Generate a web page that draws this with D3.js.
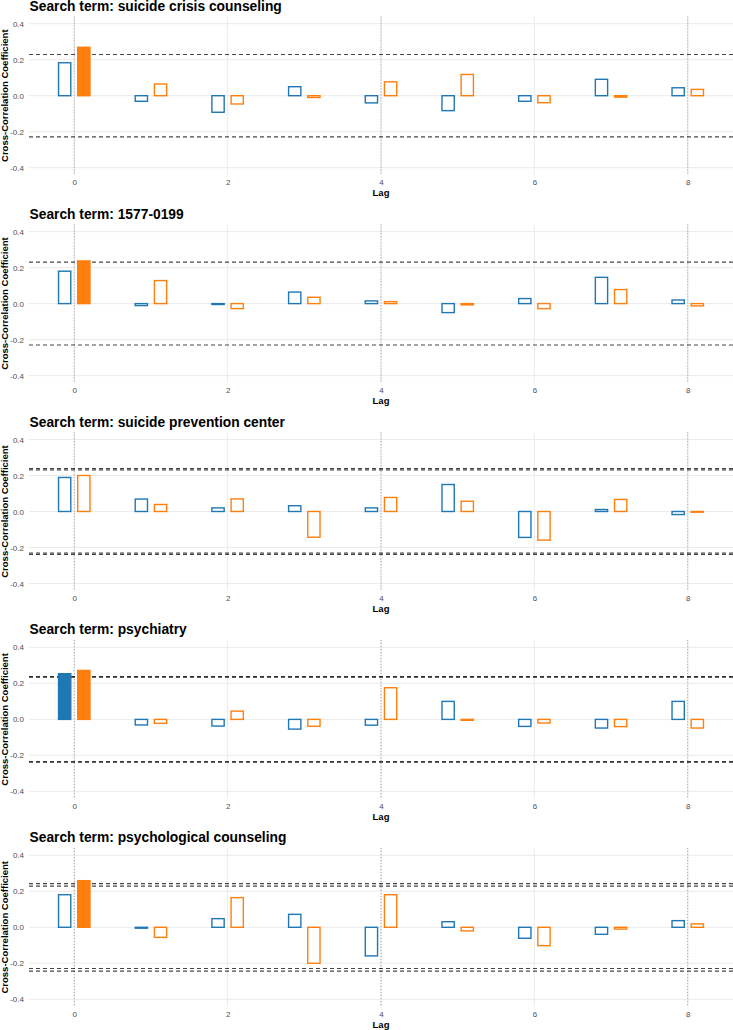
<!DOCTYPE html>
<html>
<head>
<meta charset="utf-8">
<script src="https://cdn.jsdelivr.net/npm/d3@7"></script>
<style>
  body { margin: 0; background: #fff; }
  text { font-family: "Liberation Sans", Arial, sans-serif; }
</style>
</head>
<body>
<script>
// chart data
const lags = [0, 1, 2, 3, 4, 5, 6, 7, 8];
const searchTerms = [
  'suicide crisis counseling',
  '1577-0199',
  'suicide prevention center',
  'psychiatry',
  'psychological counseling'
];
// blue series, one row per search term, one value per lag
const blueCcf = [
  [0.183, -0.031, -0.092, 0.05, -0.04, -0.083, -0.031, 0.091, 0.044],
  [0.18, -0.011, -0.005, 0.064, 0.015, -0.05, 0.028, 0.146, 0.02],
  [0.189, 0.069, 0.02, 0.032, 0.02, 0.15, -0.144, 0.011, -0.017],
  [0.254, -0.031, -0.037, -0.054, -0.032, 0.1, -0.039, -0.048, 0.1],
  [0.181, -0.005, 0.048, 0.072, -0.159, 0.031, -0.061, -0.039, 0.037]
];
// orange series
const orangeCcf = [
  [0.269, 0.065, -0.046, -0.01, 0.077, 0.118, -0.039, -0.008, 0.035],
  [0.237, 0.128, -0.028, 0.035, 0.011, -0.007, -0.028, 0.078, -0.013],
  [0.2, 0.039, 0.07, -0.143, 0.078, 0.057, -0.159, 0.067, -0.004],
  [0.272, -0.022, 0.046, -0.038, 0.176, -0.005, -0.02, -0.04, -0.048],
  [0.259, -0.056, 0.165, -0.2, 0.181, -0.02, -0.102, -0.01, 0.019]
];
// significance bounds (+/-) drawn as dashed lines
const thresholds = [
  [0.229],
  [0.23],
  [0.231, 0.239],
  [0.235, 0.238],
  [0.229, 0.243]
];
const yTicks = [-0.4, -0.2, 0, 0.2, 0.4];
const xTicks = [0, 2, 4, 6, 8];
const markedLags = [0, 4, 8];

const width = 733, height = 1030;
const blue = '#1f77b4', orange = '#ff7f0e';

const svg = d3.select('body').append('svg')
  .attr('width', width)
  .attr('height', height);

// shared x scale, panel runs from x=29 to the right edge
const x = d3.scaleLinear().domain([-0.59, 8.59]).range([29, width]);
const barW = x(0.16) - x(0);
const dodge = 0.125;

const firstZero = 95.7, panelStep = 207.9, halfH = 79.2;

searchTerms.forEach((term, i) => {
  const zero = firstZero + i * panelStep;
  const y = d3.scaleLinear().domain([-0.44, 0.44]).range([zero + halfH, zero - halfH]);
  const g = svg.append('g');

  // grid lines
  g.selectAll('line.hgrid').data(yTicks).enter().append('line')
    .attr('x1', x.range()[0]).attr('x2', x.range()[1])
    .attr('y1', d => y(d)).attr('y2', d => y(d))
    .attr('stroke', '#ebebeb').attr('stroke-width', 1);
  g.selectAll('line.vgrid').data(xTicks).enter().append('line')
    .attr('x1', d => x(d)).attr('x2', d => x(d))
    .attr('y1', y(0.44)).attr('y2', y(-0.44))
    .attr('stroke', '#ebebeb').attr('stroke-width', 1);

  // dotted markers at lags 0, 4, 8
  g.selectAll('line.mark').data(markedLags).enter().append('line')
    .attr('x1', d => x(d)).attr('x2', d => x(d))
    .attr('y1', y(0.44)).attr('y2', y(-0.44))
    .attr('stroke', '#8c8c8c').attr('stroke-width', 0.9)
    .attr('stroke-dasharray', '1,2');

  // dashed significance bounds
  const bounds = thresholds[i].flatMap(t => [t, -t]);
  g.selectAll('line.bound').data(bounds).enter().append('line')
    .attr('x1', x.range()[0]).attr('x2', x.range()[1])
    .attr('y1', d => y(d)).attr('y2', d => y(d))
    .attr('stroke', '#000').attr('stroke-opacity', 0.72)
    .attr('stroke-width', 1.2)
    .attr('stroke-dasharray', '4,3');

  // bars: filled when beyond the bound
  const limit = d3.max(thresholds[i]);
  const bars = lags.flatMap(l => [
    { lag: l - dodge, v: blueCcf[i][l], color: blue },
    { lag: l + dodge, v: orangeCcf[i][l], color: orange }
  ]);
  g.selectAll('rect.bar').data(bars).enter().append('rect')
    .attr('x', d => x(d.lag) - barW / 2)
    .attr('y', d => y(Math.max(d.v, 0)))
    .attr('width', barW)
    .attr('height', d => Math.max(Math.abs(y(d.v) - y(0)), 0.5))
    .attr('fill', d => Math.abs(d.v) > limit ? d.color : '#fff')
    .attr('stroke', d => d.color)
    .attr('stroke-width', 1.4);

  // axes (no tick marks, theme_minimal look)
  const yAxis = g.append('g')
    .attr('transform', `translate(${x.range()[0]},0)`)
    .call(d3.axisLeft(y).tickValues(yTicks).tickSize(0).tickPadding(5)
      .tickFormat(d => d.toFixed(1)));
  const xAxis = g.append('g')
    .attr('transform', `translate(0,${y(-0.44)})`)
    .call(d3.axisBottom(x).tickValues(xTicks).tickSize(0).tickPadding(4.5));
  [yAxis, xAxis].forEach(a => {
    a.select('.domain').remove();
    a.selectAll('text')
      .attr('font-size', 8)
      .attr('fill', '#4d4d4d')
      .style('font-family', '"Liberation Sans", Arial, sans-serif');
  });

  // titles
  g.append('text')
    .attr('x', 29.5).attr('y', zero - 85)
    .attr('font-size', 13.8).attr('font-weight', 'bold')
    .text('Search term: ' + term);
  g.append('text')
    .attr('x', (x.range()[0] + x.range()[1]) / 2).attr('y', zero + 100.5)
    .attr('text-anchor', 'middle')
    .attr('font-size', 9.5).attr('font-weight', 'bold')
    .text('Lag');
  g.append('text')
    .attr('transform', `translate(7.5,${zero}) rotate(-90)`)
    .attr('text-anchor', 'middle')
    .attr('font-size', 9.5).attr('font-weight', 'bold')
    .text('Cross-Correlation Coefficient');
});
</script>
</body>
</html>
